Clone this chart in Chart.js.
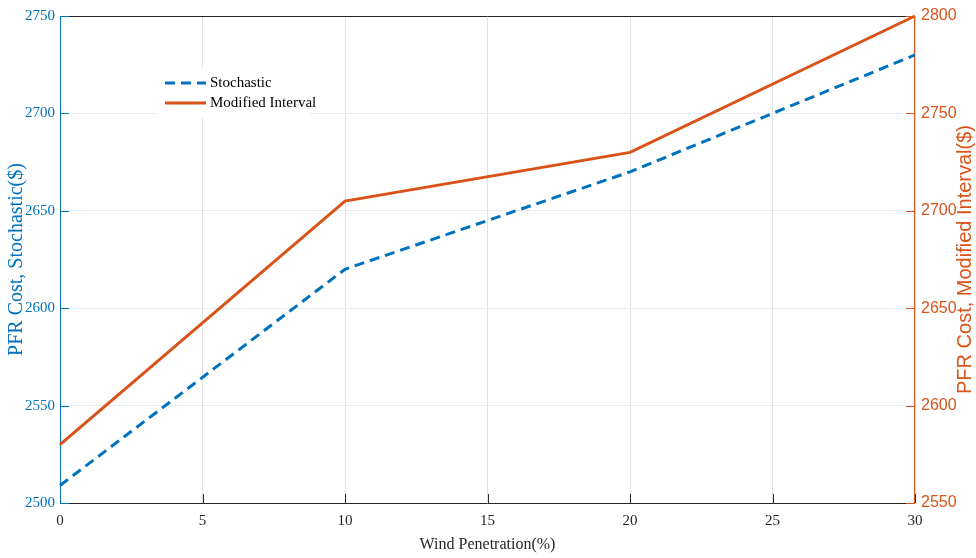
<!DOCTYPE html>
<html>
<head>
<meta charset="utf-8">
<script src="https://cdn.jsdelivr.net/npm/chart.js@4/dist/chart.umd.min.js"></script>
<style>
  html, body { margin: 0; padding: 0; background: #fff; }
  #wrap { width: 976px; height: 558px; position: relative; }
</style>
</head>
<body>
<div id="wrap"><canvas id="c" width="976" height="558"></canvas></div>
<script>
const windPenetration = [0, 10, 20, 30]
const stochasticCost = [2509, 2620, 2670, 2730]
const modifiedIntervalCost = [2580, 2705, 2730, 2800]

const xTicks = [0, 5, 10, 15, 20, 25, 30]
const leftTicks = [2500, 2550, 2600, 2650, 2700, 2750]
const rightTicks = [2550, 2600, 2650, 2700, 2750, 2800]

const BLUE = '#0072BD'
const ORANGE = '#D95319'
const INK = '#262626'
const SERIF = 'Liberation Serif, Times New Roman, serif'
const SANS = 'Liberation Sans, Arial, sans-serif'

const plain = v => String(v)

// axes box, inward tick marks, axis titles and the legend, drawn by hand
const matlabFrame = {
  id: 'matlabFrame',
  beforeDatasetsDraw(chart) {
    const { ctx, chartArea: a, scales } = chart
    const tl = 9
    ctx.save()
    ctx.lineWidth = 1
    // top and bottom
    ctx.strokeStyle = INK
    ctx.beginPath()
    ctx.moveTo(a.left, a.top + 0.5); ctx.lineTo(a.right, a.top + 0.5)
    ctx.moveTo(a.left, a.bottom + 0.5); ctx.lineTo(a.right, a.bottom + 0.5)
    for (const v of xTicks) {
      const x = Math.round(scales.x.getPixelForValue(v)) + 0.5
      ctx.moveTo(x, a.bottom); ctx.lineTo(x, a.bottom - tl)
    }
    ctx.stroke()
    // left axis
    ctx.strokeStyle = BLUE
    ctx.beginPath()
    ctx.moveTo(a.left + 0.5, a.top); ctx.lineTo(a.left + 0.5, a.bottom + 1)
    for (const v of leftTicks) {
      const y = Math.round(scales.y.getPixelForValue(v)) + 0.5
      ctx.moveTo(a.left, y); ctx.lineTo(a.left + tl, y)
    }
    ctx.stroke()
    // right axis
    ctx.strokeStyle = ORANGE
    ctx.beginPath()
    ctx.moveTo(a.right - 0.5, a.top); ctx.lineTo(a.right - 0.5, a.bottom + 1)
    for (const v of rightTicks) {
      const y = Math.round(scales.y1.getPixelForValue(v)) + 0.5
      ctx.moveTo(a.right, y); ctx.lineTo(a.right - tl, y)
    }
    ctx.stroke()
    ctx.restore()
  },
  afterDraw(chart) {
    const { ctx, chartArea: a } = chart
    const midY = (a.top + a.bottom) / 2
    ctx.save()
    ctx.textAlign = 'center'
    ctx.textBaseline = 'middle'

    ctx.save()
    ctx.translate(a.left - 43, midY)
    ctx.rotate(-Math.PI / 2)
    ctx.fillStyle = BLUE
    ctx.font = '20px ' + SERIF
    ctx.fillText('PFR Cost, Stochastic($)', 0, 0)
    ctx.restore()

    ctx.save()
    ctx.translate(a.right + 50, midY)
    ctx.rotate(-Math.PI / 2)
    ctx.fillStyle = ORANGE
    ctx.font = '20px ' + SANS
    ctx.fillText('PFR Cost, Modified Interval($)', 0, 0)
    ctx.restore()

    ctx.fillStyle = INK
    ctx.font = '16px ' + SERIF
    ctx.fillText('Wind Penetration(%)', (a.left + a.right) / 2, a.bottom + 42)

    // legend
    const bx = a.left + 97, by = a.top + 51, bw = 153, bh = 51
    ctx.fillStyle = '#fff'
    ctx.fillRect(bx, by, bw, bh)
    const rows = [
      { label: 'Stochastic', color: BLUE, dash: [10, 6] },
      { label: 'Modified Interval', color: ORANGE, dash: [] },
    ]
    rows.forEach((r, i) => {
      const y = by + 16 + i * 20
      ctx.strokeStyle = r.color
      ctx.lineWidth = 3
      ctx.setLineDash(r.dash)
      ctx.beginPath()
      ctx.moveTo(bx + 8, y); ctx.lineTo(bx + 49, y)
      ctx.stroke()
      ctx.setLineDash([])
      ctx.fillStyle = '#000'
      ctx.font = '15px ' + SERIF
      ctx.textAlign = 'left'
      ctx.fillText(r.label, bx + 53, y)
    })
    ctx.restore()
  },
}

const toPoints = ys => ys.map((y, i) => ({ x: windPenetration[i], y }))

new Chart(document.getElementById('c'), {
  type: 'line',
  data: {
    datasets: [
      {
        label: 'Stochastic',
        data: toPoints(stochasticCost),
        yAxisID: 'y',
        borderColor: BLUE,
        borderWidth: 3,
        borderDash: [10, 6],
        pointRadius: 0,
        tension: 0,
        clip: false,
      },
      {
        label: 'Modified Interval',
        data: toPoints(modifiedIntervalCost),
        yAxisID: 'y1',
        borderColor: ORANGE,
        borderWidth: 3,
        pointRadius: 0,
        tension: 0,
        clip: false,
      },
    ],
  },
  options: {
    responsive: false,
    animation: false,
    layout: { padding: { top: 16, left: 0, right: 0, bottom: 0 } },
    plugins: { legend: { display: false }, tooltip: { enabled: false } },
    scales: {
      x: {
        type: 'linear',
        min: 0,
        max: 30,
        afterBuildTicks: s => { s.ticks = xTicks.map(v => ({ value: v })) },
        afterFit: s => { s.height = 55 },
        grid: { color: '#e1e1e1', drawTicks: false },
        border: { display: false },
        ticks: { color: INK, font: { family: SERIF, size: 15 }, padding: 9, maxRotation: 0, callback: plain },
      },
      y: {
        position: 'left',
        min: 2500,
        max: 2750,
        afterBuildTicks: s => { s.ticks = leftTicks.map(v => ({ value: v })) },
        afterFit: s => { s.width = 60 },
        grid: { color: '#e4edf6', drawTicks: false },
        border: { display: false },
        ticks: { color: BLUE, font: { family: SERIF, size: 15 }, padding: 5, callback: plain },
      },
      y1: {
        position: 'right',
        min: 2550,
        max: 2800,
        afterBuildTicks: s => { s.ticks = rightTicks.map(v => ({ value: v })) },
        afterFit: s => { s.width = 61 },
        grid: { display: false, drawTicks: false },
        border: { display: false },
        ticks: { color: ORANGE, font: { family: SANS, size: 16 }, padding: 6, callback: plain },
      },
    },
  },
  plugins: [matlabFrame],
})
</script>
</body>
</html>
